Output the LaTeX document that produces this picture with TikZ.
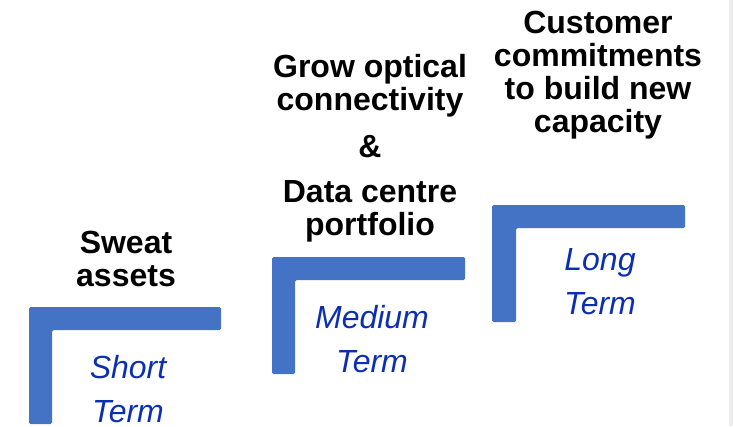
\documentclass[tikz,border=0pt]{standalone}
\usepackage{fontspec}
\setmainfont{Liberation Sans}
\usetikzlibrary{positioning}

\definecolor{stepblue}{HTML}{4472C4}
\definecolor{termblue}{HTML}{0C2FB2}

\begin{document}
\begin{tikzpicture}[x=1pt,y=-1pt,
	goal/.style={font=\fontsize{32}{33}\selectfont\bfseries, align=center, text=black},
	term/.style={font=\fontsize{32}{44}\selectfont\itshape, align=center, text=termblue},
	stair/.style={fill=stepblue, rounded corners=1.5pt}]
  \useasboundingbox (0,0) rectangle (733,426);
  \fill[gray!15] (729,0) rectangle (733,426);

  % the three steps
  \fill[stair] (29,307) -- (221,307) -- (221,330) -- (52,330) -- (52,424) -- (29,424) -- cycle;
  \fill[stair] (272,257) -- (465,257) -- (465,280) -- (295,280) -- (295,374) -- (272,374) -- cycle;
  \fill[stair] (492,205) -- (685,205) -- (685,228) -- (516,228) -- (516,322) -- (492,322) -- cycle;

  \node[term] (short) at (128,389) {Short\\Term};
  \node[term] (medium) at (372,339) {Medium\\Term};
  \node[term] (long) at (600,282) {Long\\Term};

  \node[goal] (sweat) at (126,259) {Sweat\\assets};
  \node[goal] (grow) at (370,148) {Grow optical\\connectivity\\[14pt]\&\\[12pt]Data centre\\portfolio};
  \node[goal] (customer) at (598,75) {Customer\\commitments\\to build new\\capacity};
\end{tikzpicture}
\end{document}
